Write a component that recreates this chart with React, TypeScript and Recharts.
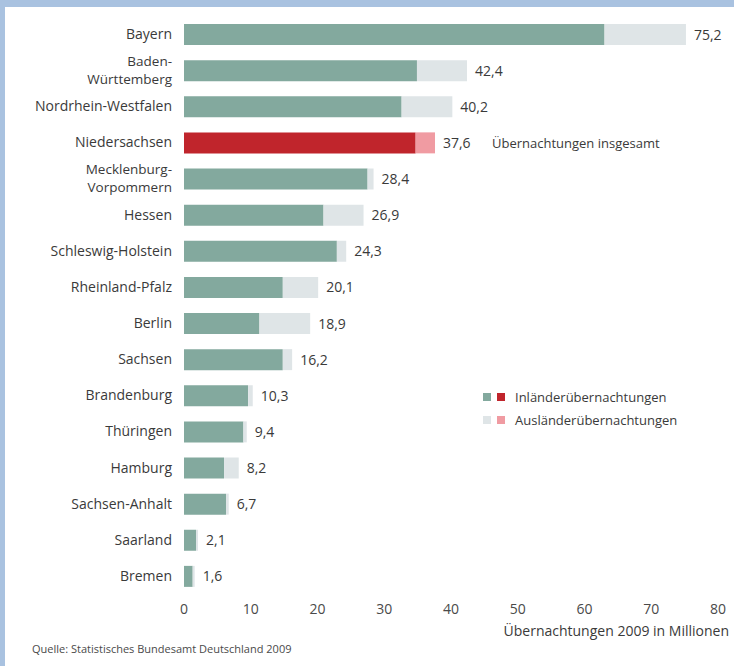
import { BarChart, Bar, XAxis, YAxis, Cell, LabelList } from "recharts";

const states = [
  "Bayern",
  "Baden-\nWürttemberg",
  "Nordrhein-Westfalen",
  "Niedersachsen",
  "Mecklenburg-\nVorpommern",
  "Hessen",
  "Schleswig-Holstein",
  "Rheinland-Pfalz",
  "Berlin",
  "Sachsen",
  "Brandenburg",
  "Thüringen",
  "Hamburg",
  "Sachsen-Anhalt",
  "Saarland",
  "Bremen",
];
const totals = [75.2, 42.4, 40.2, 37.6, 28.4, 26.9, 24.3, 20.1, 18.9, 16.2, 10.3, 9.4, 8.2, 6.7, 2.1, 1.6];
const domestic = [63.0, 34.9, 32.6, 34.7, 27.5, 20.9, 22.9, 14.8, 11.3, 14.8, 9.6, 8.9, 6.0, 6.3, 1.8, 1.3];
const xTicks = [0, 10, 20, 30, 40, 50, 60, 70, 80];
const highlight = "Niedersachsen";

const data = states.map((s, i) => ({
  state: s,
  domestic: domestic[i],
  foreign: +(totals[i] - domestic[i]).toFixed(1),
  total: totals[i],
}));

const FONT = "'Open Sans', sans-serif";
const TEAL = "#83a99e";
const GREY = "#dfe5e7";
const RED = "#c0252c";
const PINK = "#f09ba2";

// y-axis labels, some of them on two lines
function StateTick({ x, y, payload }: any) {
  const lines = String(payload.value).split("\n");
  const two = lines.length > 1;
  const step = 18;
  const start = -((lines.length - 1) * step) / 2;
  return (
    <g>
      {lines.map((l, i) => (
        <text
          key={i}
          x={x - 4}
          y={y + start + i * step}
          dy="0.36em"
          textAnchor="end"
          fill="#3a3a3a"
          fontSize={two ? 13.5 : 14}
          fontFamily={FONT}
        >
          {l}
        </text>
      ))}
    </g>
  );
}

function TotalLabel(props: any) {
  const { x, y, width, height, value, index } = props;
  const tx = x + width + 8;
  const ty = y + height / 2;
  return (
    <g>
      <text x={tx} y={ty} dy="0.36em" fill="#3a3a3a" fontSize={14} fontFamily={FONT}>
        {Number(value).toFixed(1).replace(".", ",")}
      </text>
      {states[index] === highlight && (
        <text x={tx + 49} y={ty} dy="0.36em" fill="#3a3a3a" fontSize={13} fontFamily={FONT}>
          Übernachtungen insgesamt
        </text>
      )}
    </g>
  );
}

function LegendBox() {
  const row = (a: string, b: string, label: string) => (
    <div style={{ display: "flex", alignItems: "center", height: 23 }}>
      <span style={{ width: 8, height: 8, background: a, marginRight: 6 }} />
      <span style={{ width: 8, height: 8, background: b, marginRight: 10 }} />
      <span style={{ fontSize: 13, color: "#3a3a3a", fontFamily: FONT }}>{label}</span>
    </div>
  );
  return (
    <div style={{ position: "absolute", left: 483, top: 385 }}>
      {row(TEAL, RED, "Inländerübernachtungen")}
      {row(GREY, PINK, "Ausländerübernachtungen")}
    </div>
  );
}

export default function App() {
  return (
    <div style={{ position: "absolute", left: 0, top: 0, width: 734, height: 666, background: "#fff", overflow: "hidden" }}>
      <div style={{ position: "absolute", left: 0, top: 0, width: 734, height: 7, background: "#a9c2e0" }} />
      <div style={{ position: "absolute", left: 0, top: 0, width: 5, height: 666, background: "#a9c2e0" }} />
      <div style={{ position: "absolute", left: 0, top: 0 }}>
        <BarChart
          width={734}
          height={666}
          data={data}
          layout="vertical"
          margin={{ top: 16, right: 16, left: 0, bottom: 42 }}
          barSize={21}
        >
          <XAxis
            type="number"
            domain={[0, 80]}
            ticks={xTicks}
            axisLine={false}
            tickLine={false}
            height={30}
            tick={{ fill: "#4a4a4a", fontSize: 14, fontFamily: FONT }}
            tickMargin={4}
          />
          <YAxis
            type="category"
            dataKey="state"
            width={184}
            axisLine={false}
            tickLine={false}
            interval={0}
            tick={<StateTick />}
          />
          <Bar dataKey="domestic" stackId="a" isAnimationActive={false}>
            {data.map((d) => (
              <Cell key={d.state} fill={d.state === highlight ? RED : TEAL} />
            ))}
          </Bar>
          <Bar dataKey="foreign" stackId="a" isAnimationActive={false}>
            {data.map((d) => (
              <Cell key={d.state} fill={d.state === highlight ? PINK : GREY} />
            ))}
            <LabelList dataKey="total" content={<TotalLabel />} />
          </Bar>
        </BarChart>
      </div>
      <LegendBox />
      <div
        style={{
          position: "absolute",
          right: 5,
          top: 621,
          fontSize: 14,
          color: "#3a3a3a",
          fontFamily: FONT,
        }}
      >
        Übernachtungen 2009 in Millionen
      </div>
      <div
        style={{
          position: "absolute",
          left: 32,
          top: 641,
          fontSize: 11,
          color: "#4a4a4a",
          fontFamily: FONT,
        }}
      >
        Quelle: Statistisches Bundesamt Deutschland 2009
      </div>
    </div>
  );
}
